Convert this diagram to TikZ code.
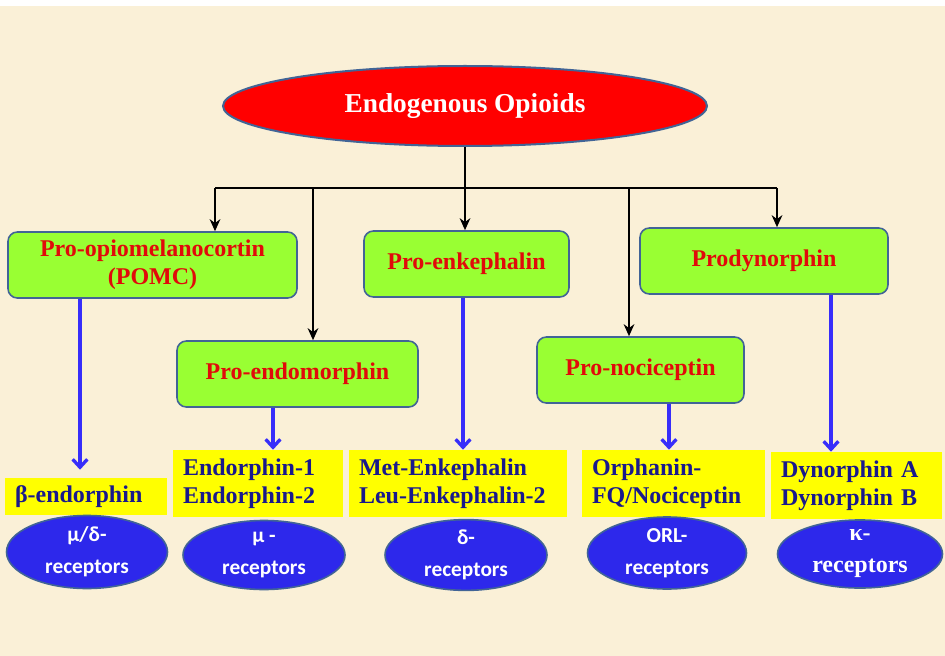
\documentclass[tikz,border=0pt]{standalone}
\usepackage{fontspec}
\setmainfont{Liberation Serif}
\newfontfamily\recfont{Carlito}
\usetikzlibrary{shapes.geometric,arrows.meta}
\definecolor{parch}{RGB}{250,240,215}
\definecolor{boxedge}{RGB}{65,100,150}
\definecolor{progreen}{RGB}{153,255,51}
\definecolor{prored}{RGB}{225,10,10}
\definecolor{pepyellow}{RGB}{255,255,0}
\definecolor{pepblue}{RGB}{25,25,140}
\definecolor{recblue}{RGB}{45,40,235}
\definecolor{arrblue}{RGB}{55,45,250}
\begin{document}
\begin{tikzpicture}[x=0.75pt,y=-0.75pt]
  %
  \tikzstyle{pro} = [draw=boxedge, line width=1.2pt, fill=progreen, rounded corners=7pt, text=prored, font=\bfseries\fontsize{18}{21}\selectfont, align=center, minimum height=49.5pt, inner sep=0pt]
  \tikzstyle{pep} = [fill=pepyellow, text=pepblue, font=\bfseries\fontsize{18}{21}\selectfont, align=left, inner xsep=7.5pt, inner ysep=0pt]
  \tikzstyle{rec} = [ellipse, draw=boxedge, line width=1.2pt, fill=recblue, text=white, font=\recfont\bfseries\fontsize{16}{24}\selectfont, align=center, inner sep=0pt]
  \tikzstyle{blk} = [line width=1.8pt, -{Stealth[length=9pt,width=8pt]}]
  \tikzstyle{blu} = [draw=arrblue, line width=2.5pt, -{Straight Barb[length=6pt,width=11pt]}]
  \fill[white] (0,0) rectangle (945,656);
  \fill[parch] (0,6) rectangle (945,656);
  \useasboundingbox (0,0) rectangle (945,656);

  % top
  \node[ellipse, draw=boxedge, line width=1.5pt, fill=red, text=white, font=\bfseries\fontsize{20.5}{24}\selectfont, minimum width=363pt, minimum height=60pt, inner sep=0pt] (opioids) at (465,106) {Endogenous Opioids};

  % precursors
  \node[pro, minimum width=216.75pt] (pomc) at (152.5,265) {Pro-opiomelanocortin\\(POMC)};
  \node[pro, minimum width=180.75pt] (endo) at (297.5,374) {Pro-endomorphin};
  \node[pro, minimum width=153.75pt] (enk) at (466.5,264) {Pro-enkephalin};
  \node[pro, minimum width=155.25pt] (noci) at (640.5,370) {Pro-nociceptin};
  \node[pro, minimum width=186pt] (dyn) at (764,261) {Prodynorphin};

  % peptides
  \node[pep, text width=106.5pt, minimum height=27.75pt] (beta) at (86,496.5) {β-endorphin};
  \node[pep, text width=112.5pt, minimum height=50.25pt] (endr) at (258,483.5) {Endorphin-1\\Endorphin-2};
  \node[pep, text width=148.5pt, minimum height=50.25pt] (met) at (458,483.5) {Met-Enkephalin\\Leu-Enkephalin-2};
  \node[pep, text width=122.25pt, minimum height=50.25pt] (orph) at (673.5,483.5) {Orphanin-\\FQ/Nociceptin};
  \node[pep, text width=113.25pt, minimum height=50.25pt] (dynab) at (856.5,485.5) {Dynorphin A\\Dynorphin B};

  % receptors
  \node[rec, minimum width=120.75pt, minimum height=54.75pt] (mud) at (87,552) {μ/δ-\\receptors};
  \node[rec, minimum width=121.5pt, minimum height=51.75pt] (mu) at (264,555) {μ -\\receptors};
  \node[rec, minimum width=121.5pt, minimum height=51.75pt] (delta) at (466,555) {δ-\\receptors};
  \node[rec, minimum width=119.25pt, minimum height=54pt] (orl) at (667,553) {ORL-\\receptors};
  \node[rec, minimum width=123.75pt, minimum height=51pt, font=\rmfamily\bfseries\fontsize{18}{24}\selectfont] (kappa) at (860,554) {κ-\\receptors};

  % tree
  \coordinate (b1) at (215,188);
  \coordinate (b2) at (313,188);
  \coordinate (b4) at (629,188);
  \coordinate (b5) at (777,188);
  \draw[line width=1.8pt] (opioids.south) -- (opioids.south |- b1);
  \draw[line width=1.8pt] (b1) -- (b5);
  \draw[blk] (b1) -- (b1 |- pomc.north);
  \draw[blk] (b2) -- (b2 |- endo.north);
  \draw[blk] (opioids.south |- b1) -- (opioids.south |- enk.north);
  \draw[blk] (b4) -- (b4 |- noci.north);
  \draw[blk] (b5) -- (b5 |- dyn.north);

  % products
  \draw[blu] (80,0 |- pomc.south) -- (80,0 |- beta.north) [shorten >=6pt];
  \draw[blu] (273,0 |- endo.south) -- (273,0 |- endr.north);
  \draw[blu] (463,0 |- enk.south) -- (463,0 |- met.north);
  \draw[blu] (669,0 |- noci.south) -- (669,0 |- orph.north);
  \draw[blu] (831,0 |- dyn.south) -- (831,0 |- dynab.north);
\end{tikzpicture}
\end{document}
